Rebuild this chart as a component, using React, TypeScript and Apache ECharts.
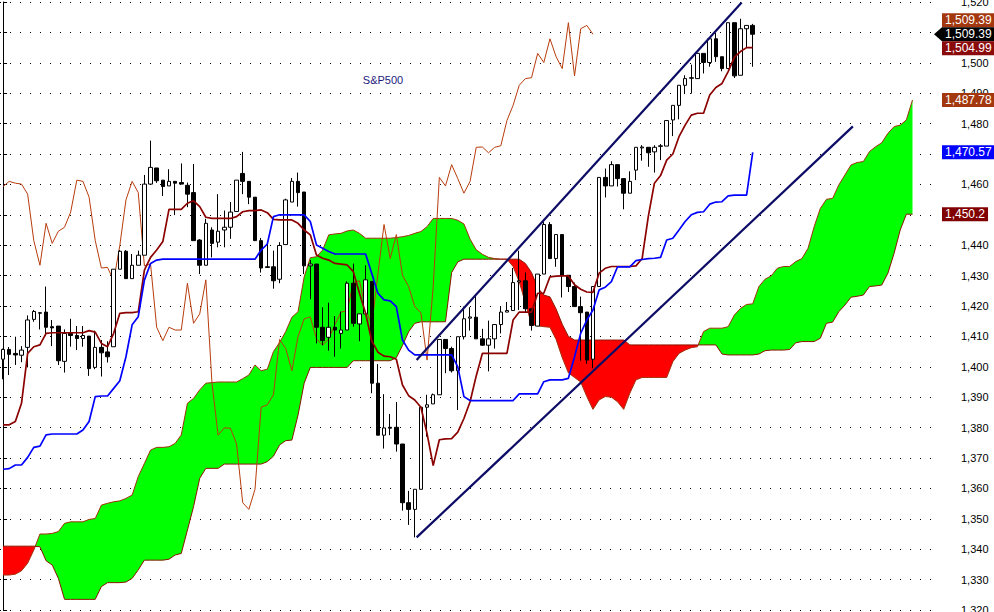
import React, { useEffect, useRef } from 'react';
import * as echarts from 'echarts';

// ---- candle data (index 0..122) ----
const open = [1402.5,1405.7,1404.4,1403.8,1406.4,1415.6,1417.6,1418.0,1413.2,1413.4,
1401.8,1411.0,1410.3,1409.3,1410.1,1399.8,1406.4,1404.9,1406.6,1432.1,
1438.0,1429.0,1433.4,1436.7,1460.1,1465.4,1461.4,1459.5,1461.0,1460.6,
1459.7,1457.3,1441.7,1433.4,1445.0,1441.0,1445.0,1445.9,1451.1,1463.6,
1461.0,1455.8,1441.5,1432.9,1432.9,1428.8,1440.2,1454.2,1461.0,1457.5,
1433.2,1433.8,1413.0,1409.7,1413.0,1411.0,1412.1,1427.5,1414.1,1417.4,
1428.1,1394.6,1377.5,1380.1,1380.1,1374.6,1355.3,1353.1,1359.7,1386.7,
1387.8,1390.8,1409.0,1406.0,1398.7,1409.9,1416.0,1416.3,1409.2,1407.1,
1409.2,1413.9,1418.0,1418.5,1427.9,1428.3,1419.1,1413.4,1430.5,1446.8,
1435.6,1443.5,1430.1,1426.4,1419.8,1418.0,1402.5,1426.4,1462.3,1459.5,
1466.5,1461.9,1457.1,1464.7,1472.0,1472.2,1470.7,1472.5,1472.6,1481.2,
1486.0,1492.6,1494.9,1494.8,1503.1,1500.1,1507.9,1502.0,1498.1,1513.2,
1495.9,1511.2,1512.3];
const close = [1405.7,1404.1,1403.9,1405.5,1415.4,1418.2,1417.8,1413.0,1412.8,1402.0,
1411.0,1410.3,1409.3,1410.3,1399.4,1406.4,1404.6,1403.3,1432.1,1438.0,
1429.0,1433.4,1436.7,1460.1,1465.6,1461.2,1459.3,1461.0,1460.4,1460.1,
1456.8,1441.5,1433.4,1447.2,1440.6,1444.6,1445.9,1450.9,1461.4,1461.0,
1455.8,1441.5,1432.5,1432.7,1428.3,1439.9,1454.9,1461.0,1457.3,1433.2,
1433.8,1413.0,1408.6,1413.0,1412.1,1412.1,1427.5,1414.3,1417.4,1428.6,
1394.6,1377.5,1379.9,1379.8,1374.6,1355.3,1353.1,1359.7,1386.7,1387.5,
1390.8,1409.0,1406.0,1398.7,1409.9,1415.8,1416.4,1409.2,1407.1,1409.2,
1413.9,1418.0,1418.5,1427.7,1428.3,1419.1,1413.6,1430.5,1446.8,1435.6,
1443.5,1430.1,1426.4,1419.8,1417.8,1402.2,1426.4,1462.3,1459.5,1466.5,
1461.9,1457.1,1461.0,1472.2,1472.3,1470.4,1472.2,1472.7,1481.0,1486.0,
1492.6,1494.8,1495.1,1503.1,1500.1,1507.9,1502.0,1498.1,1513.2,1495.7,
1511.2,1512.3,1509.39];
const low = [1395.9,1397.3,1400.6,1401.5,1399.8,1414.8,1412.3,1410.1,1406.8,1400.6,
1398.1,1406.6,1405.5,1406.6,1397.0,1399.2,1396.8,1401.4,1406.6,1432.1,
1429.0,1429.0,1433.4,1436.7,1460.1,1460.5,1456.2,1459.5,1449.9,1460.1,
1452.5,1441.5,1430.5,1433.4,1436.0,1439.3,1439.3,1442.1,1451.1,1456.8,
1453.5,1441.5,1431.0,1432.5,1425.7,1427.5,1440.2,1454.2,1452.7,1430.5,
1422.2,1407.7,1407.1,1405.3,1403.3,1406.0,1412.1,1413.2,1408.4,1417.4,
1391.3,1377.5,1373.1,1377.5,1372.1,1352.7,1348.0,1343.9,1359.7,1377.0,
1387.8,1390.8,1397.9,1398.1,1385.8,1409.0,1411.9,1409.2,1406.9,1398.5,
1406.0,1411.0,1418.0,1418.5,1418.7,1418.0,1411.9,1413.4,1430.5,1435.6,
1432.9,1422.8,1424.6,1419.8,1402.0,1401.0,1399.5,1426.4,1455.7,1459.5,
1459.3,1451.8,1457.1,1461.4,1467.8,1465.8,1463.9,1468.0,1472.6,1475.9,
1481.4,1489.7,1489.9,1494.8,1496.5,1498.7,1500.3,1497.2,1498.1,1495.0,
1495.9,1505.1,1498.7];
const high = [1406.0,1406.5,1409.9,1406.8,1416.9,1418.7,1418.0,1426.4,1415.4,1413.4,
1412.3,1415.8,1413.4,1413.4,1410.1,1411.9,1408.8,1408.4,1432.1,1438.4,
1438.4,1437.1,1438.2,1463.1,1474.4,1465.4,1461.4,1465.0,1461.0,1466.9,
1460.6,1466.7,1442.0,1448.7,1445.9,1456.8,1451.4,1454.2,1461.4,1470.7,
1461.0,1455.8,1442.4,1440.4,1438.2,1441.0,1455.3,1462.1,1463.9,1457.5,
1435.1,1433.8,1419.6,1421.1,1416.7,1418.2,1428.1,1434.0,1417.4,1433.4,
1428.1,1400.9,1391.0,1384.5,1388.4,1374.6,1359.2,1359.7,1386.7,1390.8,
1391.2,1409.0,1409.0,1406.6,1409.9,1419.8,1419.6,1423.5,1412.5,1415.2,
1413.9,1419.8,1421.3,1432.5,1438.2,1431.0,1419.1,1430.5,1447.6,1447.6,
1443.5,1443.5,1430.1,1427.7,1423.1,1418.0,1426.4,1462.3,1465.2,1467.6,
1466.5,1461.9,1464.3,1472.2,1472.9,1472.2,1472.9,1473.3,1481.0,1486.0,
1492.6,1495.9,1499.4,1503.1,1503.1,1507.9,1509.9,1502.0,1513.2,1513.2,
1514.5,1512.3,1512.8];

// ---- Ichimoku lines ----
const tenkan = [1380.9,1380.9,1382.0,1388.0,1404.4,1406.6,1407.2,1411.0,1411.2,1411.2,
1411.2,1411.2,1411.2,1411.2,1411.9,1411.4,1407.7,1406.6,1411.0,1417.6,
1417.8,1417.8,1418.1,1431.8,1436.0,1438.4,1441.2,1451.8,1451.8,1451.8,
1453.8,1454.6,1452.7,1449.2,1448.8,1448.8,1448.8,1448.8,1449.4,1451.0,
1451.4,1451.4,1451.6,1450.7,1448.5,1448.3,1448.3,1448.3,1447.2,1445.0,
1443.4,1436.8,1435.7,1435.1,1434.0,1433.8,1433.5,1431.3,1424.2,1417.6,
1408.5,1404.8,1403.5,1403.3,1402.5,1394.0,1390.5,1389.1,1386.7,1378.0,
1367.5,1376.0,1376.3,1376.4,1378.5,1383.0,1388.5,1397.0,1404.4,1404.4,
1404.4,1404.4,1404.4,1415.4,1418.0,1418.0,1418.0,1424.2,1424.2,1429.6,
1429.8,1429.9,1429.9,1427.0,1425.5,1424.6,1424.5,1430.8,1432.4,1433.0,
1433.0,1433.0,1433.0,1433.2,1435.6,1449.4,1460.4,1462.9,1468.0,1470.0,
1475.7,1479.5,1482.8,1483.4,1483.4,1489.4,1491.9,1493.2,1497.1,1501.8,
1503.7,1504.99,1504.99];
const kijun = [1366.3,1366.5,1367.7,1367.7,1370.2,1373.5,1373.9,1377.6,1377.9,1377.9,
1377.9,1377.9,1377.9,1379.2,1382.0,1390.2,1390.4,1390.4,1392.9,1395.4,
1403.3,1413.8,1416.5,1428.5,1434.0,1435.1,1435.4,1435.4,1435.4,1435.4,
1435.4,1435.4,1435.4,1435.4,1435.4,1435.4,1435.4,1435.4,1435.4,1435.4,
1435.4,1435.4,1438.4,1440.4,1449.4,1450.0,1450.0,1450.0,1450.0,1450.0,
1447.8,1440.1,1439.0,1437.9,1437.1,1437.1,1437.1,1437.1,1437.1,1437.1,
1430.7,1424.2,1422.0,1421.7,1419.8,1408.8,1405.5,1403.9,1403.9,1403.9,
1403.9,1403.9,1403.9,1403.9,1400.0,1390.2,1388.9,1388.9,1388.9,1388.9,
1388.9,1388.9,1388.9,1388.9,1391.1,1391.1,1391.1,1391.1,1395.1,1395.7,
1395.7,1395.7,1396.2,1403.3,1411.0,1415.4,1418.7,1425.3,1426.2,1428.0,
1432.9,1432.9,1432.9,1434.9,1435.3,1435.6,1435.7,1436.0,1441.7,1442.3,
1445.0,1447.8,1450.0,1450.8,1451.0,1453.5,1454.2,1454.3,1456.2,1456.5,
1456.5,1456.5,1470.57];
const senkouA = [1331.5,1331.5,1331.8,1332.9,1335.4,1339.7,1345.0,1345.0,1345.2,1345.8,
1348.5,1349.0,1349.0,1349.0,1349.8,1350.1,1354.5,1355.1,1355.6,1355.9,
1356.7,1357.8,1363.9,1368.2,1372.6,1373.5,1373.5,1373.7,1374.8,1377.6,
1388.0,1389.6,1392.4,1394.6,1394.8,1395.0,1395.0,1395.0,1395.0,1396.1,
1397.3,1400.6,1398.7,1399.2,1405.0,1408.0,1411.6,1416.3,1418.1,1429.6,
1435.9,1436.2,1438.4,1443.4,1443.7,1443.9,1444.7,1445.0,1443.9,1442.3,
1442.3,1442.3,1442.3,1442.3,1442.5,1442.8,1443.2,1443.9,1444.5,1446.1,
1448.8,1448.8,1448.8,1448.8,1448.2,1447.0,1442.0,1438.5,1437.0,1436.0,
1435.6,1435.4,1435.4,1433.0,1428.0,1421.0,1414.0,1413.5,1413.2,1413.0,
1409.0,1403.0,1398.0,1396.5,1395.0,1390.2,1386.0,1389.1,1390.2,1390.0,
1388.5,1386.0,1391.3,1395.7,1396.5,1396.5,1396.5,1396.5,1396.5,1401.7,
1404.4,1405.5,1406.3,1406.6,1411.6,1412.7,1412.7,1412.7,1413.2,1417.0,
1419.2,1420.5,1420.7,1426.4,1428.8,1429.9,1432.4,1433.0,1433.0,1434.6,
1435.6,1439.0,1446.1,1452.1,1455.1,1455.4,1459.8,1463.1,1466.4,1467.2,
1467.5,1470.8,1472.4,1473.7,1476.8,1479.0,1479.5,1481.2,1487.78];
const senkouB = [1341.0,1341.0,1341.0,1341.0,1341.0,1341.0,1340.8,1336.2,1334.8,1330.4,
1323.5,1323.5,1323.5,1323.5,1323.5,1323.5,1327.7,1329.0,1329.0,1329.0,
1329.2,1330.4,1333.2,1336.4,1336.4,1336.4,1336.4,1336.7,1338.1,1338.6,
1346.3,1354.0,1363.3,1366.6,1366.6,1366.6,1368.0,1368.0,1368.0,1368.0,
1368.0,1368.0,1368.0,1368.8,1370.6,1374.3,1375.7,1375.9,1384.1,1394.6,
1399.8,1399.8,1399.8,1399.8,1399.8,1399.8,1399.8,1402.0,1402.0,1402.0,
1402.0,1402.0,1402.0,1402.0,1403.0,1407.0,1411.5,1414.3,1414.8,1414.8,
1414.8,1414.8,1414.8,1431.0,1434.5,1435.4,1435.4,1435.4,1435.4,1435.4,
1435.4,1435.4,1435.4,1435.4,1435.4,1434.0,1431.0,1426.0,1423.6,1423.0,
1419.0,1414.0,1410.0,1408.8,1408.8,1408.8,1408.8,1408.8,1408.8,1408.8,
1408.8,1408.8,1407.2,1407.2,1407.2,1407.2,1407.2,1407.2,1407.2,1407.2,
1407.2,1407.2,1407.2,1407.2,1407.2,1407.2,1407.2,1404.2,1403.9,1403.9,
1403.9,1403.9,1403.9,1404.2,1405.3,1405.5,1405.5,1405.5,1405.7,1407.9,
1408.3,1408.3,1408.3,1409.4,1414.3,1414.7,1418.1,1420.3,1422.9,1423.2,
1423.6,1426.4,1426.6,1426.9,1430.8,1437.3,1445.0,1450.2,1450.2];

// chikou span = closes displayed 26 periods back
const CHIKOU_SHIFT = 26;

// trend channel endpoints [periodIndex, price]
const upperTrend = [[67.3, 1402.2], [120.2, 1519.8]];
const lowerTrend = [[67.3, 1343.9], [138.3, 1479.1]];

const Y_MIN = 1320;
const Y_MAX = 1520;
const Y_STEP = 10;
const N_SLOTS = 152;

const GREEN = '#00ff00';
const RED = '#ff0000';

const fmt = (v: number) => v.toLocaleString('en-US', { maximumFractionDigits: 2 });

export default function App() {
  const ref = useRef<HTMLDivElement>(null);
  useEffect(() => {
    if (!ref.current) return;
    const chart = echarts.init(ref.current, undefined, { renderer: 'svg' });
    const categories = Array.from({ length: N_SLOTS }, (_, i) => String(i));
    const candleData = open.map((o, i) => [o, close[i], low[i], high[i]]);
    const chikou = close.slice(CHIKOU_SHIFT);
    const lastClose = close[close.length - 1];
    const lastTenkan = tenkan[tenkan.length - 1];
    const lastKijun = kijun[kijun.length - 1];
    const lastA = senkouA[senkouA.length - 1];
    const lastB = senkouB[senkouB.length - 1];
    const tagValues = [lastClose, lastKijun, lastB];

    // one polygon per contiguous region of the cloud
    const renderCloud = (params: any, api: any) => {
      const n = senkouA.length;
      const pt = (x: number, v: number) => api.coord([x, v]);
      const children: any[] = [];
      let top: number[][] = [];
      let bot: number[][] = [];
      let sign = 0;
      const flush = () => {
        if (top.length >= 2) {
          children.push({
            type: 'polygon',
            shape: { points: top.concat(bot.slice().reverse()) },
            style: { fill: sign >= 0 ? GREEN : RED },
          });
        }
      };
      for (let i = 0; i < n; i++) {
        const d = senkouA[i] - senkouB[i];
        const s = d > 0 ? 1 : d < 0 ? -1 : 0;
        if (i === 0) {
          sign = s;
          top = [pt(i, senkouA[i])];
          bot = [pt(i, senkouB[i])];
          continue;
        }
        if (s !== 0 && sign !== 0 && s !== sign) {
          const dPrev = senkouA[i - 1] - senkouB[i - 1];
          const t = dPrev / (dPrev - d);
          const P = pt(i - 1 + t, senkouA[i - 1] + t * (senkouA[i] - senkouA[i - 1]));
          top.push(P);
          bot.push(P);
          flush();
          top = [P, pt(i, senkouA[i])];
          bot = [P, pt(i, senkouB[i])];
          sign = s;
        } else {
          if (sign === 0) sign = s;
          top.push(pt(i, senkouA[i]));
          bot.push(pt(i, senkouB[i]));
        }
      }
      flush();
      return { type: 'group', children };
    };

    const option: any = {
      animation: false,
      backgroundColor: '#ffffff',
      grid: { left: 0, right: 60, top: 2, bottom: 2, containLabel: false, outerBoundsMode: 'none' },
      xAxis: [
        { type: 'category', data: categories, show: false, boundaryGap: true },
        { type: 'value', min: -0.5, max: N_SLOTS - 0.5, show: false },
      ],
      yAxis: {
        type: 'value',
        position: 'right',
        min: Y_MIN,
        max: Y_MAX,
        interval: Y_STEP,
        axisLine: { show: true, lineStyle: { color: '#000', width: 1 } },
        axisTick: { show: true, length: 4, inside: false, lineStyle: { color: '#000' } },
        axisLabel: {
          margin: 27,
          fontSize: 11,
          color: '#000',
          fontFamily: '"Liberation Sans", Arial, sans-serif',
          // labels hidden behind the value tags, as in the reference
          formatter: (v: number) => (tagValues.some((t) => Math.abs(t - v) < 1.5) ? '' : fmt(v)),
        },
        splitLine: { show: true, lineStyle: { color: '#000', type: [1, 9], width: 1 } },
      },
      series: [
        {
          type: 'custom',
          xAxisIndex: 1,
          yAxisIndex: 0,
          data: [[0, Y_MIN]],
          renderItem: renderCloud,
          clip: true,
          silent: true,
          z: 1,
        },
        {
          type: 'line', xAxisIndex: 0, data: senkouA, symbol: 'none', silent: true, z: 2,
          lineStyle: { color: '#a3300c', width: 1 },
        },
        {
          type: 'line', xAxisIndex: 0, data: senkouB, symbol: 'none', silent: true, z: 2,
          lineStyle: { color: '#8b1500', width: 1 },
        },
        {
          type: 'line', xAxisIndex: 0, data: chikou, symbol: 'none', silent: true, z: 2,
          lineStyle: { color: '#b83c0c', width: 1 },
        },
        {
          type: 'candlestick',
          xAxisIndex: 0,
          data: candleData,
          barWidth: 4,
          silent: true,
          z: 3,
          itemStyle: {
            color: '#ffffff', color0: '#000000',
            borderColor: '#000000', borderColor0: '#000000', borderColorDoji: '#000000',
            borderWidth: 1,
          },
        },
        {
          type: 'line', xAxisIndex: 0, data: tenkan, symbol: 'none', silent: true, z: 4,
          lineStyle: { color: '#8b0000', width: 1.7 },
        },
        {
          type: 'line', xAxisIndex: 0, data: kijun, symbol: 'none', silent: true, z: 4,
          lineStyle: { color: '#0000ff', width: 1.7 },
        },
        {
          type: 'line', xAxisIndex: 1, data: upperTrend, symbol: 'none', silent: true, z: 5,
          lineStyle: { color: '#0c0c66', width: 2.2 },
        },
        {
          type: 'line', xAxisIndex: 1, data: lowerTrend, symbol: 'none', silent: true, z: 5,
          lineStyle: { color: '#0c0c66', width: 2.2 },
        },
      ],
    };
    chart.setOption(option);

    const yOf = (v: number) => chart.convertToPixel({ yAxisIndex: 0 } as any, v) as number;
    const yClose = yOf(lastClose);
    const tagX = 942;
    const font = '12px "Liberation Sans", Arial, sans-serif';
    const tag = (y: number, value: number, bg: string) => ({
      type: 'text',
      z: 100,
      x: tagX,
      y,
      style: {
        text: fmt(value),
        fill: '#ffffff',
        font,
        backgroundColor: bg,
        padding: [1, 3, 1, 3],
        lineHeight: 12,
        align: 'left',
        verticalAlign: 'middle',
      },
    });
    const graphics: any[] = [
      {
        type: 'text', z: 100, x: 383, y: 80,
        style: { text: 'S&P500', fill: '#1c1c7c', font: '11px "Liberation Sans", Arial, sans-serif', align: 'center', verticalAlign: 'middle' },
      },
      tag(yClose - 14, lastClose, '#a3380e'),
      {
        type: 'polygon', z: 100,
        shape: { points: [[934, yClose], [942, yClose - 7], [942, yClose + 7]] },
        style: { fill: '#000000' },
      },
      tag(yClose, lastClose, '#000000'),
      tag(Math.max(yOf(lastTenkan), yClose + 14), lastTenkan, '#8b0a0a'),
      tag(yOf(lastA), lastA, '#a3380e'),
      tag(yOf(lastKijun), lastKijun, '#0000ff'),
      tag(yOf(lastB), lastB, '#800000'),
    ];
    chart.setOption({ graphic: graphics });

    return () => chart.dispose();
  }, []);
  return <div ref={ref} style={{ position: 'fixed', left: 0, top: 0, width: 994, height: 612 }} />;
}
